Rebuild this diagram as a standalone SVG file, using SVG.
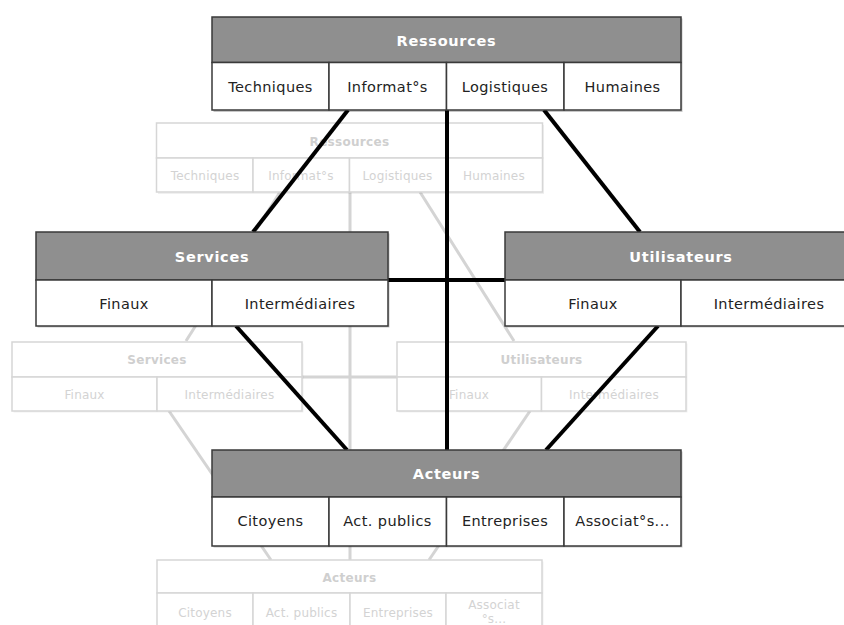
<svg xmlns="http://www.w3.org/2000/svg" width="844" height="625" viewBox="0 0 844 625">
<style>
  .hd { fill: #8f8f8f; stroke: #3a3a3a; stroke-width: 1.5; }
  .cell { fill: #ffffff; stroke: #3a3a3a; stroke-width: 1.5; }
  .sh { fill: #000; opacity: 0.22; }
  .ht { font-family: "DejaVu Sans", Verdana, sans-serif; font-size: 14.5px; letter-spacing: 0.7px; font-weight: bold; fill: #ffffff; text-anchor: middle; }
  .ct { font-family: "DejaVu Sans", Verdana, sans-serif; font-size: 14.5px; letter-spacing: 0.4px; fill: #222222; text-anchor: middle; }
  .ghd { fill: #ffffff; stroke: #d6d6d6; stroke-width: 1.5; }
  .gsh { fill: #000; opacity: 0.06; }
  .ght { font-family: "DejaVu Sans", Verdana, sans-serif; font-size: 12px; letter-spacing: 0.3px; font-weight: bold; fill: #cfcfcf; text-anchor: middle; }
  .gct { font-family: "DejaVu Sans", Verdana, sans-serif; font-size: 12px; letter-spacing: 0.2px; fill: #d3d3d3; text-anchor: middle; }
  .gline { stroke: #d4d4d4; stroke-width: 3; fill: none; }
  .line { stroke: #000000; stroke-width: 4; fill: none; }
</style>
<rect width="844" height="625" fill="#ffffff"/>

<!-- ghost connectors -->
<g id="ghost-connectors">
  <line class="gline" x1="350" y1="192" x2="350" y2="560"/>
  <line class="gline" x1="280" y1="192" x2="186" y2="341"/>
  <line class="gline" x1="420" y1="192" x2="514" y2="341"/>
  <line class="gline" x1="302" y1="377" x2="397" y2="377"/>
  <line class="gline" x1="169" y1="411" x2="271" y2="560"/>
  <line class="gline" x1="530" y1="411" x2="429" y2="560"/>
</g>

<!-- ghost nodes -->
<g id="ghost-ressources">
  <rect class="gsh" x="158" y="125" width="386" height="69"/>
  <rect class="ghd" x="156.5" y="123" width="386" height="35"/>
  <rect class="ghd" x="156.5" y="158" width="96.5" height="34"/>
  <rect class="ghd" x="253" y="158" width="96.5" height="34"/>
  <rect class="ghd" x="349.5" y="158" width="96.5" height="34"/>
  <rect class="ghd" x="446" y="158" width="96.5" height="34"/>
  <text class="ght" x="349.5" y="146">Ressources</text>
  <text class="gct" x="205" y="180">Techniques</text>
  <text class="gct" x="301" y="180">Informat°s</text>
  <text class="gct" x="397.5" y="180">Logistiques</text>
  <text class="gct" x="494" y="180">Humaines</text>
</g>
<g id="ghost-services">
  <rect class="gsh" x="13.5" y="343.5" width="290" height="69"/>
  <rect class="ghd" x="12" y="342" width="290" height="35"/>
  <rect class="ghd" x="12" y="377" width="145" height="34"/>
  <rect class="ghd" x="157" y="377" width="145" height="34"/>
  <text class="ght" x="157" y="364">Services</text>
  <text class="gct" x="84.5" y="399">Finaux</text>
  <text class="gct" x="229.5" y="399">Intermédiaires</text>
</g>
<g id="ghost-utilisateurs">
  <rect class="gsh" x="398.5" y="343.5" width="289" height="69"/>
  <rect class="ghd" x="397" y="342" width="289" height="35"/>
  <rect class="ghd" x="397" y="377" width="144.5" height="34"/>
  <rect class="ghd" x="541.5" y="377" width="144.5" height="34"/>
  <text class="ght" x="541.5" y="364">Utilisateurs</text>
  <text class="gct" x="469" y="399">Finaux</text>
  <text class="gct" x="614" y="399">Intermédiaires</text>
</g>
<g id="ghost-acteurs">
  <rect class="gsh" x="158.5" y="561.5" width="385" height="67"/>
  <rect class="ghd" x="157" y="560" width="385" height="33"/>
  <rect class="ghd" x="157" y="593" width="96" height="34"/>
  <rect class="ghd" x="253" y="593" width="97" height="34"/>
  <rect class="ghd" x="350" y="593" width="96" height="34"/>
  <rect class="ghd" x="446" y="593" width="96" height="34"/>
  <text class="ght" x="349.5" y="582">Acteurs</text>
  <text class="gct" x="205" y="617">Citoyens</text>
  <text class="gct" x="301.5" y="617">Act. publics</text>
  <text class="gct" x="398" y="617">Entreprises</text>
  <text class="gct" x="494" y="609">Associat</text>
  <text class="gct" x="494" y="623">°s...</text>
</g>

<!-- connectors -->
<g id="connectors">
  <line class="line" x1="348" y1="110" x2="253" y2="232"/>
  <line class="line" x1="544" y1="110" x2="640" y2="232"/>
  <line class="line" x1="447" y1="110" x2="447" y2="450"/>
  <line class="line" x1="388" y1="280" x2="505" y2="280"/>
  <line class="line" x1="236" y1="326" x2="347" y2="450"/>
  <line class="line" x1="658" y1="326" x2="546" y2="450"/>
</g>

<!-- front nodes -->
<g id="ressources">
  <rect class="sh" x="213.5" y="18.5" width="469" height="93.5"/>
  <rect class="hd" x="212" y="17" width="469" height="45.5"/>
  <rect class="cell" x="212" y="62.5" width="117" height="47.5"/>
  <rect class="cell" x="329" y="62.5" width="117.5" height="47.5"/>
  <rect class="cell" x="446.5" y="62.5" width="117.5" height="47.5"/>
  <rect class="cell" x="564" y="62.5" width="117" height="47.5"/>
  <text class="ht" x="446.5" y="46">Ressources</text>
  <text class="ct" x="270.5" y="91.5">Techniques</text>
  <text class="ct" x="387.5" y="91.5">Informat°s</text>
  <text class="ct" x="505" y="91.5">Logistiques</text>
  <text class="ct" x="622.5" y="91.5">Humaines</text>
</g>
<g id="services">
  <rect class="sh" x="37.5" y="233.5" width="352" height="94"/>
  <rect class="hd" x="36" y="232" width="352" height="48"/>
  <rect class="cell" x="36" y="280" width="176" height="46"/>
  <rect class="cell" x="212" y="280" width="176" height="46"/>
  <text class="ht" x="212" y="262">Services</text>
  <text class="ct" x="124" y="309">Finaux</text>
  <text class="ct" x="300" y="309">Intermédiaires</text>
</g>
<g id="utilisateurs">
  <rect class="sh" x="506.5" y="233.5" width="352" height="94"/>
  <rect class="hd" x="505" y="232" width="352" height="48"/>
  <rect class="cell" x="505" y="280" width="176" height="46"/>
  <rect class="cell" x="681" y="280" width="176" height="46"/>
  <text class="ht" x="681" y="262">Utilisateurs</text>
  <text class="ct" x="593" y="309">Finaux</text>
  <text class="ct" x="769" y="309">Intermédiaires</text>
</g>
<g id="acteurs">
  <rect class="sh" x="213.5" y="451.5" width="469" height="96"/>
  <rect class="hd" x="212" y="450" width="469" height="47"/>
  <rect class="cell" x="212" y="497" width="117" height="49"/>
  <rect class="cell" x="329" y="497" width="117.5" height="49"/>
  <rect class="cell" x="446.5" y="497" width="117.5" height="49"/>
  <rect class="cell" x="564" y="497" width="117" height="49"/>
  <text class="ht" x="446.5" y="479">Acteurs</text>
  <text class="ct" x="270.5" y="526">Citoyens</text>
  <text class="ct" x="387.5" y="526">Act. publics</text>
  <text class="ct" x="505" y="526">Entreprises</text>
  <text class="ct" x="622.5" y="526">Associat°s...</text>
</g>
</svg>
